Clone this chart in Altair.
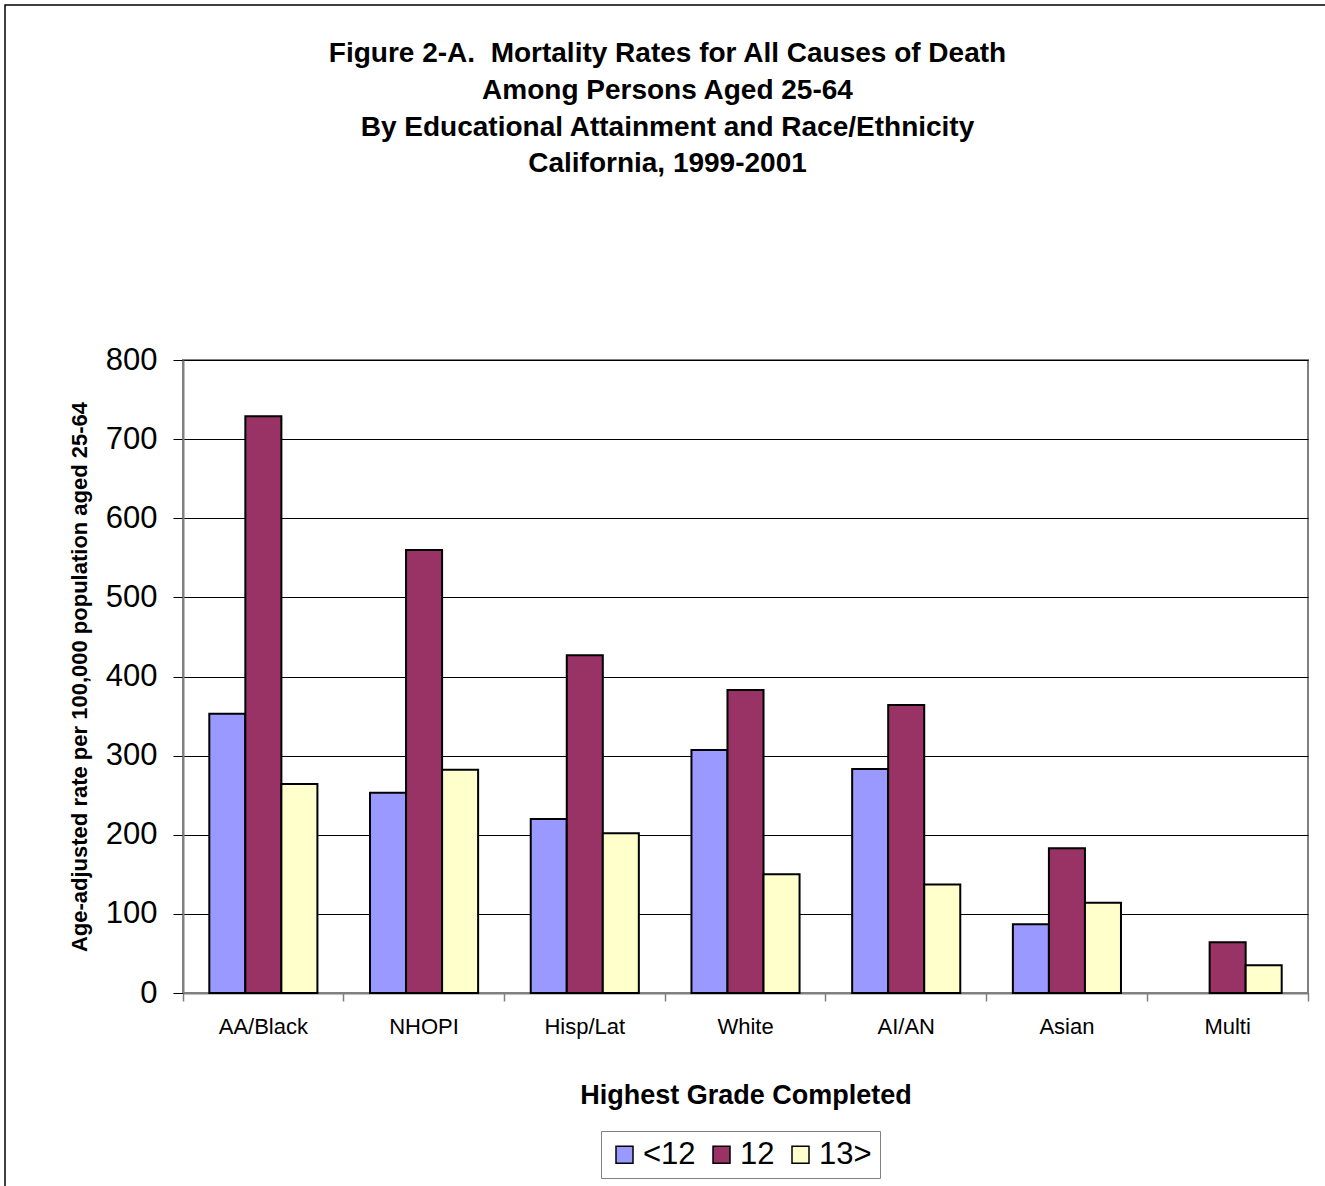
import altair as alt
import pandas as pd

categories = ["AA/Black", "NHOPI", "Hisp/Lat", "White", "AI/AN", "Asian", "Multi"]
series = ["<12", "12", "13>"]
lt12 = [353, 253, 220, 307, 283, 87, None]
eq12 = [729, 560, 427, 383, 364, 183, 64]
ge13 = [264, 282, 202, 150, 137, 114, 35]
colors = ["#9999FF", "#993366", "#FFFFCC"]
y_ticks = [0, 100, 200, 300, 400, 500, 600, 700, 800]
title_lines = [
    "Figure 2-A.\u00a0 Mortality Rates for All Causes of Death",
    "Among Persons Aged 25-64",
    "By Educational Attainment and Race/Ethnicity",
    "California, 1999-2001",
]

rows = []
for s, vals in zip(series, [lt12, eq12, ge13]):
    for c, v in zip(categories, vals):
        if v is not None:
            rows.append({"group": c, "grade": s, "rate": v})
df = pd.DataFrame(rows)

W, H = 1125, 633
FONT = "Liberation Sans"

bars = alt.Chart(df).mark_bar(stroke="black", strokeWidth=2).encode(
    x=alt.X(
        "group:N",
        sort=categories,
        scale=alt.Scale(paddingInner=0, paddingOuter=0),
        axis=alt.Axis(
            title="Highest Grade Completed",
            labelAngle=0,
            bandPosition=1,
            tickExtra=True,
            grid=False,
            tickSize=8,
            tickColor="#808080",
            tickWidth=1.5,
            domainColor="#808080",
            domainWidth=2,
            labelFontSize=22,
            labelPadding=15,
            titleFontSize=27,
            titlePadding=45,
        ),
    ),
    xOffset=alt.XOffset(
        "grade:N", sort=series, scale=alt.Scale(domain=series, paddingInner=0, paddingOuter=0.73)
    ),
    y=alt.Y(
        "rate:Q",
        scale=alt.Scale(domain=[0, 800], nice=False),
        axis=alt.Axis(
            title="Age-adjusted rate per 100,000 population aged 25-64",
            values=y_ticks,
            grid=True,
            gridColor="#000000",
            gridWidth=1,
            tickSize=10,
            tickColor="#000000",
            tickWidth=1,
            domainColor="#808080",
            domainWidth=2,
            labelFontSize=31,
            labelPadding=16,
            titleFontSize=22,
            titlePadding=14,
        ),
    ),
    color=alt.Color(
        "grade:N",
        sort=series,
        scale=alt.Scale(domain=series, range=colors),
        legend=alt.Legend(
            title=None,
            orient="none",
            legendX=418,
            legendY=771,
            direction="horizontal",
            symbolType="square",
            symbolSize=289,
            symbolStrokeColor="black",
            symbolStrokeWidth=1.5,
            labelFontSize=31,
            labelOffset=3,
            columnPadding=10,
            padding=8,
            strokeColor="#808080",
        ),
    ),
)

frame = alt.Chart(pd.DataFrame({"k": [0]})).mark_rect(
    filled=False, stroke="black", strokeWidth=1.5
).encode(
    x=alt.value(-178), x2=alt.value(1160), y=alt.value(-355), y2=alt.value(850)
)

chart = (
    alt.layer(frame, bars)
    .properties(
        width=W,
        height=H,
        autosize=alt.AutoSizeParams(type="none"),
        padding={"left": 183, "top": 360, "right": 17, "bottom": 193},
        title=alt.TitleParams(
            text=title_lines,
            fontSize=28,
            fontWeight="bold",
            font=FONT,
            anchor="middle",
            frame="group",
            dx=-78,
            dy=174,
            offset=0,
            lineHeight=36.7,
            color="black",
        ),
    )
    .configure(font=FONT, background="white")
    .configure_view(stroke="#808080", strokeWidth=2)
    .configure_axis(
        labelColor="black",
        titleColor="black",
        labelFont=FONT,
        titleFont=FONT,
        titleFontWeight="bold",
    )
    .configure_legend(labelFont=FONT, labelColor="black")
)

chart.save("out.html", embed_options={"renderer": "svg", "actions": False})
